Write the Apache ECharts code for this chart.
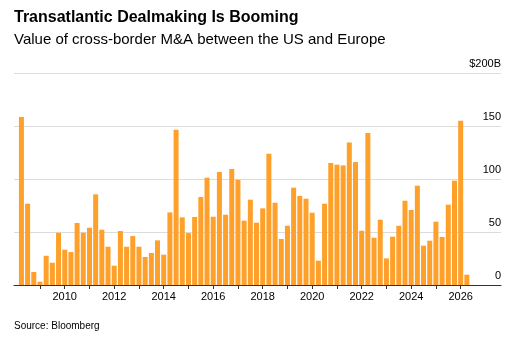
<!DOCTYPE html>
<html>
<head>
<meta charset="utf-8">
<script src="https://cdn.jsdelivr.net/npm/echarts@6/dist/echarts.min.js"></script>
<style>html,body{margin:0;padding:0;background:#fff;}#c{width:525px;height:343px;}</style>
</head>
<body>
<div id="c"></div>
<script>
// Quarterly data, first bar = 2008 Q2, last bar = 2026 Q2 (partial)
const firstQuarter = { year: 2008, q: 2 };
const values = [
  158.5, 76.7, 12.3, 3.1,
  27.6, 21, 49.3, 33.3, 31.1, 58.5, 49.3, 54,
  85.5, 52.2, 36.1, 18.2, 50.9, 36.1, 46.2, 36.1,
  26.4, 30.2, 42.1, 28.6, 68.5, 146.5, 63.8, 49,
  64.2, 83, 101.2, 64.4, 106.6, 66.3, 109.4, 99.3,
  60.7, 80.5, 58.8, 72.3, 123.9, 77.6, 43.4, 55.9,
  91.8, 84, 81.4, 68.2, 22.9, 76.7, 115.1, 113.5,
  112.8, 134.5, 116, 51.2, 143.4, 44.6, 61.6, 25.1,
  45.6, 55.9, 79.5, 70.8, 93.7, 37.1, 41.8, 59.7,
  45.3, 75.8, 98.4, 155, 9.7
];
const tickYears = [2009,2010,2011,2012,2013,2014,2015,2016,2017,2018,2019,2020,2021,2022,2023,2024,2025,2026];
const labelYears = [2010,2012,2014,2016,2018,2020,2022,2024,2026];
const yTicks = [0, 50, 100, 150, 200];

const titleText = 'Transatlantic Dealmaking Is Booming';
const subtitleText = 'Value of cross-border M&A between the US and Europe';
const sourceText = 'Source: Bloomberg';

const data = values.map((v, i) => {
  const qIndex = (firstQuarter.q - 1) + i;
  const x = firstQuarter.year + qIndex / 4;
  return [x, v];
});

const font = '"Liberation Sans", Arial, sans-serif';
const chart = echarts.init(document.getElementById('c'), null, { renderer: 'canvas' });
chart.setOption({
  animation: false,
  backgroundColor: '#fff',
  grid: { left: 14, right: 24, top: 73, bottom: 58, containLabel: false },
  graphic: [
    { type: 'text', left: 14, top: 10, style: { text: titleText, font: 'bold 16px ' + font, fill: '#000' } },
    { type: 'text', left: 14, top: 32, style: { text: subtitleText, font: '15px ' + font, fill: '#000' } },
    { type: 'text', left: 14, top: 321, style: { text: sourceText, font: '10px ' + font, fill: '#000' } }
  ],
  xAxis: {
    type: 'value',
    min: 2007.95,
    max: 2027.63,
    splitLine: { show: false },
    axisLine: { show: true, onZero: false, lineStyle: { color: '#333', width: 1 } },
    axisTick: { show: true, length: 4, customValues: tickYears, lineStyle: { color: '#333' } },
    axisLabel: { customValues: labelYears, formatter: v => String(Math.round(v)), color: '#000', fontSize: 11, fontFamily: font, margin: 6 }
  },
  yAxis: {
    type: 'value',
    position: 'right',
    min: 0,
    max: 200,
    interval: 50,
    axisLine: { show: false },
    axisTick: { show: false },
    splitLine: { show: true, lineStyle: { color: '#dcdcdc', width: 1 } },
    axisLabel: {
      inside: true,
      margin: 0,
      verticalAlign: 'bottom',
      padding: [0, 0, 4, 0],
      color: '#000',
      fontSize: 11,
      fontFamily: font,
      formatter: v => v === 200 ? '$200B' : String(v)
    }
  },
  series: [{
    type: 'bar',
    data: data,
    barWidth: 5,
    itemStyle: { color: '#fea02a' }
  }]
});
</script>
</body>
</html>
